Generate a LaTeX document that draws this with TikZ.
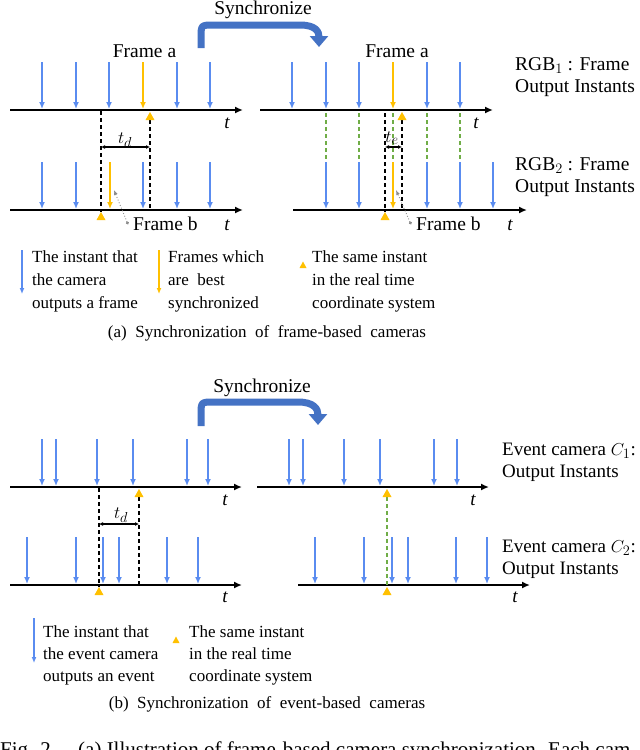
\documentclass[tikz,border=0pt]{standalone}
\usepackage{fontspec}
\setmainfont{Liberation Serif}
\usetikzlibrary{arrows.meta}
\definecolor{ablue}{HTML}{5A8CF0}
\definecolor{ayel}{HTML}{FFC000}
\definecolor{agreen}{HTML}{70AD47}
\definecolor{sblue}{HTML}{4472C4}
\definecolor{agray}{HTML}{8C8C8C}
\newcommand\ytri[2]{\fill[ayel] (#1-4.5,#2+8) -- (#1+4.5,#2+8) -- (#1,#2) -- cycle;}
\newcommand\evA[3]{\draw[evt] (#1,#2) -- (#1,#3);}
\newcommand\bsA[3]{\draw[bestarr] (#1,#2) -- (#1,#3);}
\begin{document}
\begin{tikzpicture}[x=1pt,y=-1pt,
  axis/.style={line width=2.2pt,-{Latex[length=8pt,width=7pt]}},
  evt/.style={ablue,line width=2pt,-{Latex[length=7pt,width=6pt]}},
  bestarr/.style={ayel,line width=2.4pt,-{Latex[length=7pt,width=6pt]}},
  bdash/.style={line width=1.2pt,dash pattern=on 4pt off 3pt},
  bdashk/.style={line width=1.8pt,dash pattern=on 4pt off 3pt},
  gdash/.style={agreen,line width=1.2pt,dash pattern=on 4pt off 3pt},
  dbl/.style={line width=1.2pt,{Latex[length=4pt,width=4pt]}-{Latex[length=4pt,width=4pt]}},
  ptr/.style={agray,line width=0.9pt,dotted,{Circle[length=3pt]}-{Latex[length=5pt,width=4pt]}},
  sync/.style={sblue,line width=7pt,-{Triangle[width=18pt,length=11pt]}},
  lbl/.style={inner sep=0pt,font=\fontsize{19.5}{22}\selectfont},
  evl/.style={inner sep=0pt,anchor=base west,font=\fontsize{19}{22}\selectfont},
  leg/.style={inner sep=0pt,anchor=base west,font=\fontsize{17}{22}\selectfont},
  captxt/.style={inner sep=0pt,anchor=base,font=\fontsize{17}{21}\selectfont},
  tl/.style={inner sep=0pt,anchor=base,font=\fontsize{19}{22}\selectfont\itshape}]
\useasboundingbox (0,0) rectangle (640,750);

%% ===================== (a) =====================
\node[lbl,anchor=base] (syncA) at (263,14) {Synchronize};
\draw[sync] (201,48) -- (201,38) .. controls (201,25) .. (214,25) -- (300,25) .. controls (316,25) and (319,32) .. (319,47);

% left panel
\draw[axis] (10,110) -- (243,110);
\draw[axis] (10,210) -- (243,210);
\foreach \x in {42,76,109,177,210} {\evA{\x}{62}{109}}
\bsA{143}{62}{109}
\foreach \x in {42,76,143,177,210} {\evA{\x}{162}{209}}
\bsA{110}{162}{209}
\draw[bdashk] (101,111) -- (101,212);
\draw[bdash] (150,120) -- (150,210);
\ytri{150}{112}
\ytri{101}{212}
\draw[dbl] (101,147) -- (150,147);
\node[tl] (tdA) at (125,143) {$t_d$};
\node[lbl,anchor=base] (fa1) at (144.5,57) {Frame a};
\node[lbl,anchor=base west] (fb1) at (133,230) {Frame b};
\coordinate (fb1t) at (114,190);
\draw[ptr] ([xshift=-5pt,yshift=-1pt]fb1.west) -- (fb1t);
\node[tl] (t1) at (227,128) {t};
\node[tl] (t2) at (227,230) {t};

% right panel
\draw[axis] (260,110) -- (493,110);
\draw[axis] (293,210) -- (527,210);
\foreach \x in {326,359,393,427,460} {\draw[gdash] (\x,113) -- (\x,160);}
\foreach \x in {292,326,359,427,460} {\evA{\x}{62}{109}}
\bsA{393}{62}{109}
\foreach \x in {326,359,427,460,493} {\evA{\x}{162}{209}}
\bsA{393}{162}{209}
\draw[bdash] (385,113) -- (385,212);
\draw[bdash] (402,120) -- (402,210);
\ytri{402}{112}
\ytri{385}{212}
\draw[dbl] (385,147) -- (402,147);
\node[tl] (teA) at (392,142) {$t_e$};
\node[lbl,anchor=base] (fa2) at (397,57) {Frame a};
\node[lbl,anchor=base west] (fb2) at (416,230) {Frame b};
\coordinate (fb2t) at (396,190);
\draw[ptr] ([xshift=-5pt,yshift=-1pt]fb2.west) -- (fb2t);
\node[tl] (t3) at (476,128) {t};
\node[tl] (t4) at (510,230) {t};

\node[lbl,anchor=base west] (rgb1a) at (515,70) {RGB$_1$ : Frame};
\node[lbl,anchor=base west] (rgb1b) at (515,92) {Output Instants};
\node[lbl,anchor=base west] (rgb2a) at (515,170) {RGB$_2$ : Frame};
\node[lbl,anchor=base west] (rgb2b) at (515,192) {Output Instants};

% legend (a)
\draw[ablue,line width=1.6pt,-{Latex[length=6pt,width=5pt]}] (22,250) -- (22,294);
\node[leg] (la1) at (32,262) {The instant that};
\node[leg] (la2) at (32,285) {the camera};
\node[leg] (la3) at (32,308) {outputs a frame};
\draw[ayel,line width=1.6pt,-{Latex[length=6pt,width=5pt]}] (159,250) -- (159,294);
\node[leg] (lb1) at (168,262) {Frames which};
\node[leg] (lb2) at (168,285) {are\ \ best};
\node[leg] (lb3) at (168,308) {synchronized};
\fill[ayel] (299.5,268) -- (306.5,268) -- (303,261.5) -- cycle;
\node[leg] (lc1) at (312,262) {The same instant};
\node[leg] (lc2) at (312,285) {in the real time};
\node[leg] (lc3) at (312,308) {coordinate system};
\node[captxt] (capA) at (267,337) {(a)\ \ Synchronization\ \ of\ \ frame-based\ \ cameras};

%% ===================== (b) =====================
\node[lbl,anchor=base] (syncB) at (262,392) {Synchronize};
\draw[sync] (201,426) -- (201,415) .. controls (201,402) .. (214,402) -- (298,402) .. controls (314,402) and (318,409) .. (318,425);

% left panel
\draw[axis] (10,487) -- (242,487);
\draw[axis] (10,585) -- (242,585);
\foreach \x in {42,56,97,133,187,208} {\evA{\x}{439}{486}}
\foreach \x in {27,76,103,119,167,198} {\evA{\x}{537}{584}}
\draw[bdash] (99,488) -- (99,587);
\draw[bdashk] (139,497) -- (139,585);
\ytri{139}{489}
\ytri{99}{587}
\draw[dbl] (99,524) -- (139,524);
\node[tl] (tdB) at (121,518) {$t_d$};
\node[tl] (t5) at (225,505) {t};
\node[tl] (t6) at (225,602) {t};

% right panel
\draw[axis] (257,487) -- (489,487);
\draw[axis] (298,585) -- (530,585);
\foreach \x in {289,303,344,380,434,457} {\evA{\x}{439}{486}}
\foreach \x in {315,364,392,408,456,487} {\evA{\x}{537}{584}}
\draw[gdash] (387,497) -- (387,587);
\ytri{387}{489}
\ytri{387}{587}
\node[tl] (t7) at (473,505) {t};
\node[tl] (t8) at (515,602) {t};

\node[evl] (ev1a) at (502,455) {Event camera $C_1$:};
\node[evl] (ev1b) at (502,477) {Output Instants};
\node[evl] (ev2a) at (502,552) {Event camera $C_2$:};
\node[evl] (ev2b) at (502,574) {Output Instants};

% legend (b)
\draw[ablue,line width=1.6pt,-{Latex[length=6pt,width=5pt]}] (34,618) -- (34,663);
\node[leg] (ld1) at (43,637) {The instant that};
\node[leg] (ld2) at (43,659) {the event camera};
\node[leg] (ld3) at (43,681) {outputs an event};
\fill[ayel] (172.5,643) -- (179.5,643) -- (176,636.5) -- cycle;
\node[leg] (le1) at (189,637) {The same instant};
\node[leg] (le2) at (189,659) {in the real time};
\node[leg] (le3) at (189,681) {coordinate system};
\node[captxt] (capB) at (267,708) {(b)\ \ Synchronization\ \ of\ \ event-based\ \ cameras};

% cut-off figure caption
\node[inner sep=0pt,anchor=base west,font=\fontsize{21}{24}\selectfont] (fig) at (0,756) {\makebox[78pt][l]{Fig. 2.}(a) Illustration of frame-based camera synchronization. Each cam};
\end{tikzpicture}
\end{document}
